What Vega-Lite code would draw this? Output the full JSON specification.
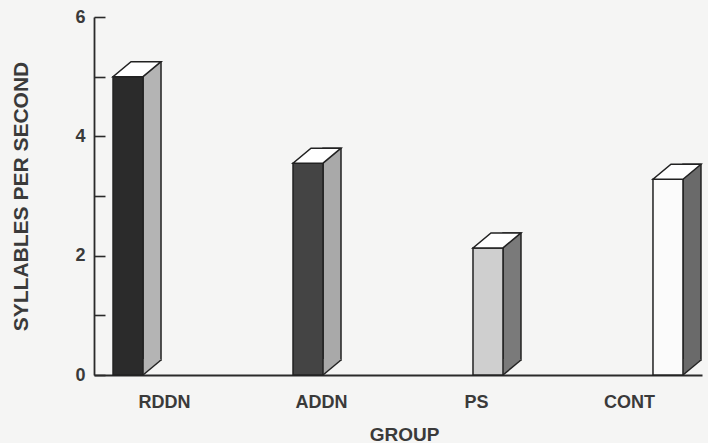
{
  "$schema": "https://vega.github.io/schema/vega-lite/v6.json",
  "width": 608,
  "height": 358,
  "autosize": "none",
  "padding": {"left": 94, "top": 17, "right": 6, "bottom": 68},
  "background": "#f5f5f4",
  "config": {
    "view": {"stroke": null},
    "font": "Liberation Sans"
  },
  "data": {
    "values": [
      {"group": "RDDN", "value": 5.0},
      {"group": "ADDN", "value": 3.55},
      {"group": "PS", "value": 2.13},
      {"group": "CONT", "value": 3.28}
    ]
  },
  "encoding": {
    "x": {
      "field": "group",
      "type": "nominal",
      "sort": ["RDDN", "ADDN", "PS", "CONT"],
      "scale": {"type": "point", "padding": 0.189},
      "axis": {
        "title": "GROUP",
        "titleFontSize": 19,
        "titleFontWeight": "bold",
        "titleColor": "#3a3a3a",
        "titlePadding": 14,
        "titleX": 310,
        "labelAngle": 0,
        "labelFontSize": 18,
        "labelFontWeight": "bold",
        "labelColor": "#3a3a3a",
        "labelPadding": 18,
        "labelOffset": {
          "condition": [
            {"test": "datum.value === 'RDDN'", "value": 36},
            {"test": "datum.value === 'ADDN'", "value": 13},
            {"test": "datum.value === 'PS'", "value": -12}
          ],
          "value": -39
        },
        "ticks": false,
        "domainColor": "#2a2a2a",
        "domainWidth": 1.8,
        "grid": false
      }
    }
  },
  "layer": [
    {
      "mark": {"type": "bar", "width": 18, "xOffset": 24, "yOffset": -15, "stroke": "#222", "strokeWidth": 1.5},
      "encoding": {
        "y": {
          "field": "value",
          "type": "quantitative",
          "scale": {"domain": [0, 6], "nice": false},
          "axis": {
            "title": "SYLLABLES PER SECOND",
            "titleFontSize": 21,
            "titleFontWeight": "bold",
            "titleColor": "#3a3a3a",
            "titlePadding": 43,
            "values": [0, 1, 2, 3, 4, 5, 6],
            "format": "d",
            "labelExpr": "datum.value % 2 === 0 ? datum.label : ''",
            "labelFontSize": 18,
            "labelFontWeight": "bold",
            "labelColor": "#3a3a3a",
            "tickSize": -11,
            "labelPadding": 20,
            "tickColor": "#2a2a2a",
            "tickWidth": 1.6,
            "domainColor": "#2a2a2a",
            "domainWidth": 1.8,
            "grid": false,
            "encode": {
              "ticks": {
                "update": {
                  "x2": {"signal": "datum.value % 2 === 0 ? 11 : 4"}
                }
              }
            }
          }
        },
        "fill": {
          "field": "group",
          "type": "nominal",
          "scale": {"domain": ["RDDN", "ADDN", "PS", "CONT"], "range": ["#b4b4b4", "#a9a9a9", "#7a7a7a", "#6a6a6a"]},
          "legend": null
        }
      }
    },
    {
      "mark": {"type": "point", "shape": "M -1 0.85 L -1 -0.95 L 1.05 -0.95 Z", "size": 324, "xOffset": 24, "yOffset": -7.5, "filled": true, "opacity": 1, "strokeWidth": 0},
      "encoding": {
        "y": {"datum": 0, "type": "quantitative"},
        "fill": {
          "field": "group",
          "type": "nominal",
          "scale": {"domain": ["RDDN", "ADDN", "PS", "CONT"], "range": ["#b4b4b4", "#a9a9a9", "#7a7a7a", "#6a6a6a"]},
          "legend": null
        }
      }
    },
    {
      "mark": {"type": "point", "shape": "M -1 0.833 L 1 -0.833", "size": 324, "xOffset": 24, "yOffset": -7.5, "filled": false, "opacity": 1, "stroke": "#222", "strokeWidth": 1.5},
      "encoding": {
        "y": {"datum": 0, "type": "quantitative"}
      }
    },
    {
      "mark": {"type": "bar", "width": 30, "stroke": "#222", "strokeWidth": 1.5},
      "encoding": {
        "y": {"field": "value", "type": "quantitative"},
        "fill": {
          "field": "group",
          "type": "nominal",
          "scale": {"domain": ["RDDN", "ADDN", "PS", "CONT"], "range": ["#2b2b2b", "#444444", "#cfcfcf", "#fbfbfb"]},
          "legend": null
        }
      }
    },
    {
      "mark": {"type": "point", "shape": "M -1 0.3125 L 0.25 0.3125 L 1 -0.3125 L -0.25 -0.3125 Z", "size": 2304, "xOffset": 9, "yOffset": -7.5, "filled": true, "fill": "#ffffff", "opacity": 1, "stroke": "#222", "strokeWidth": 1.5},
      "encoding": {
        "y": {"field": "value", "type": "quantitative"}
      }
    }
  ],
  "resolve": {"scale": {"fill": "independent"}}
}
